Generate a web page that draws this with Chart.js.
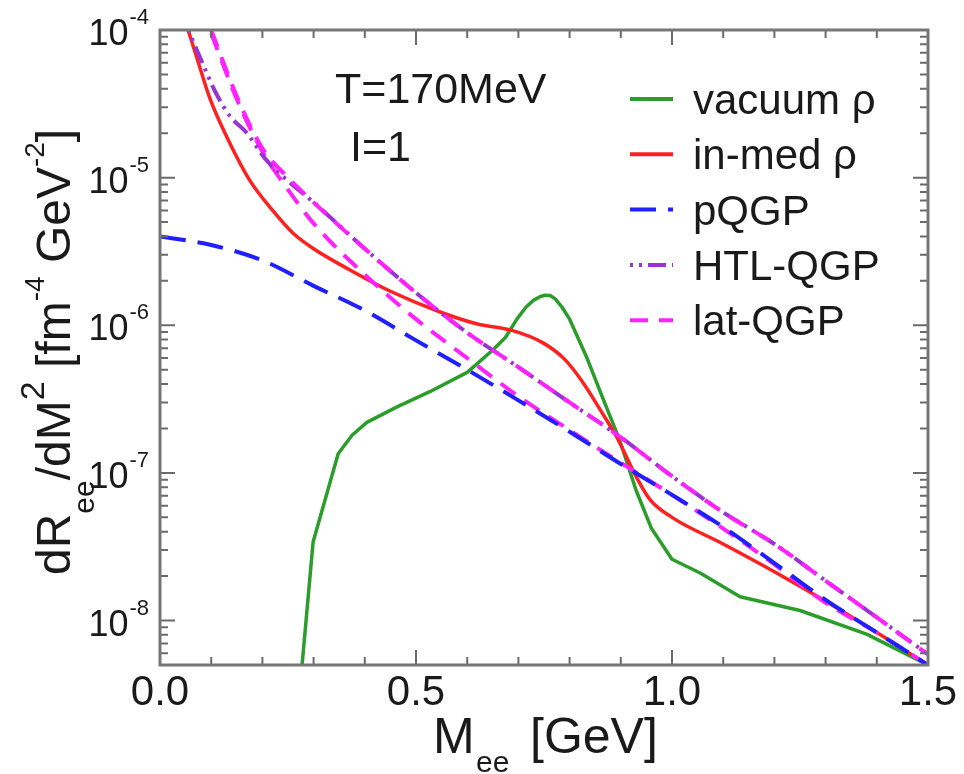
<!DOCTYPE html>
<html>
<head>
<meta charset="utf-8">
<script src="https://cdn.jsdelivr.net/npm/chart.js@4/dist/chart.umd.min.js"></script>
<style>
  body{ margin:0; background:#fff; }
  #wrap{ width:964px; height:774px; }
</style>
</head>
<body>
<div id="wrap"><canvas id="c" width="964" height="774"></canvas></div>
<script>
// M_ee [GeV] and dR/dM^2 values
const vacX = [0.275,0.299,0.348,0.375,0.404,0.463,0.527,0.6,0.65,0.675,0.697,0.715,0.73,0.742,0.752,0.762,0.772,0.785,0.8,0.834,0.865,0.898,0.93,0.96,1.0,1.055,1.133,1.25,1.38,1.5];
const vacY = [4.0e-9,3.4e-8,1.35e-7,1.8e-7,2.2e-7,2.8e-7,3.55e-7,4.8e-7,6.8e-7,8.3e-7,1.1e-6,1.33e-6,1.48e-6,1.56e-6,1.6e-6,1.59e-6,1.51e-6,1.33e-6,1.1e-6,6.0e-7,3.2e-7,1.66e-7,7.6e-8,4.2e-8,2.6e-8,2.1e-8,1.45e-8,1.17e-8,8.1e-9,5.0e-9];

const medX = [0.055,0.075,0.098,0.13,0.176,0.22,0.26,0.3,0.371,0.45,0.547,0.62,0.684,0.748,0.79,0.826,0.862,0.892,0.931,0.957,1.0,1.1,1.2,1.3,1.4,1.5];
const medY = [1.0e-4,6.0e-5,3.4e-5,1.9e-5,9.5e-6,6.0e-6,4.2e-6,3.3e-6,2.37e-6,1.7e-6,1.23e-6,1.02e-6,9.3e-7,7.6e-7,5.9e-7,4.1e-7,2.6e-7,1.75e-7,9.3e-8,6.6e-8,5.0e-8,3.3e-8,2.14e-8,1.35e-8,8.3e-9,5.0e-9];

const pqgpX = [0,0.1,0.2,0.3,0.4,0.5,0.6,0.7,0.8,0.9,1.0,1.1,1.2,1.3,1.4,1.5];
const pqgpY = [4.0e-6,3.5e-6,2.75e-6,1.85e-6,1.26e-6,7.9e-7,5.0e-7,3.1e-7,1.9e-7,1.15e-7,7.1e-8,4.3e-8,2.45e-8,1.38e-8,8.3e-9,5.0e-9];

const htlX = [0.055,0.08,0.11,0.137,0.17,0.205,0.25,0.3,0.4,0.5,0.6,0.7,0.8,0.9,1.0,1.1,1.2,1.3,1.4,1.5];
const htlY = [1.0e-4,6.3e-5,3.7e-5,2.6e-5,2.0e-5,1.35e-5,9.5e-6,6.8e-6,3.3e-6,1.66e-6,8.9e-7,5.2e-7,3.0e-7,1.74e-7,9.5e-8,5.4e-8,3.3e-8,1.86e-8,1.05e-8,5.9e-9];

const latX = [0.1,0.15,0.2,0.25,0.3,0.4,0.5,0.6,0.7,0.8,0.9,1.0,1.1,1.2,1.3,1.4,1.5];
const latY = [1.0e-4,3.55e-5,1.58e-5,1.0e-5,6.8e-6,3.3e-6,1.66e-6,8.9e-7,5.2e-7,3.0e-7,1.74e-7,9.5e-8,5.4e-8,3.3e-8,1.86e-8,1.05e-8,5.9e-9];
const lat2Y = [9.5e-5,3.4e-5,1.5e-5,8.3e-6,4.9e-6,2.2e-6,1.1e-6,6.0e-7,3.3e-7,1.95e-7,1.17e-7,7.1e-8,4.2e-8,2.4e-8,1.32e-8,8.3e-9,5.0e-9];

const xTicks = [0.0, 0.5, 1.0, 1.5];
const yDecades = [-8, -7, -6, -5, -4];

const FONT = '"Liberation Sans", Arial, sans-serif';

function pts(xs, ys){ return xs.map((x,i)=>({x:x, y:ys[i]})); }

function ds(label, xs, ys, color, dash, order, smooth){
  return {
    label, data: pts(xs, ys), borderColor: color, backgroundColor: color,
    borderWidth: dash.length ? 4 : 3.5, borderDash: dash, pointRadius: 0, fill: false,
    cubicInterpolationMode: smooth ? 'monotone' : 'default', tension: 0,
    borderJoinStyle: 'round', order
  };
}

const legendRows = [
  { text: 'vacuum ρ', color: '#2a9d2a', dash: [] },
  { text: 'in-med ρ', color: '#ff2020', dash: [] },
  { text: 'pQGP', color: '#1f1fff', dash: [26, 12] },
  { text: 'HTL-QGP', color: '#9a33d6', dash: [3, 6, 3, 6, 18, 6] },
  { text: 'lat-QGP', color: '#ff22ff', dash: [18, 11] }
];

const axesPlugin = {
  id: 'axesPlugin',
  afterDraw(chart){
    const ctx = chart.ctx;
    const a = chart.chartArea;
    const xs = chart.scales.x, ys = chart.scales.y;
    ctx.save();

    // ticks
    ctx.strokeStyle = '#6a6a6a';
    ctx.lineWidth = 2;
    ctx.beginPath();
    for(let i=0;i<=15;i++){
      const px = xs.getPixelForValue(i/10);
      const len = (i%5===0) ? 15 : 8;
      ctx.moveTo(px, a.bottom); ctx.lineTo(px, a.bottom-len);
      ctx.moveTo(px, a.top); ctx.lineTo(px, a.top+len);
    }
    for(let d=-9; d<=-5; d++){
      for(let m=1; m<=9; m++){
        const v = m*Math.pow(10,d);
        if(v < ys.min*0.999 || v > ys.max*1.001) continue;
        const py = ys.getPixelForValue(v);
        const len = (m===1) ? 15 : 8;
        ctx.moveTo(a.left, py); ctx.lineTo(a.left+len, py);
        ctx.moveTo(a.right, py); ctx.lineTo(a.right-len, py);
      }
    }
    ctx.stroke();

    // frame
    ctx.strokeStyle = '#777';
    ctx.lineWidth = 3;
    ctx.strokeRect(a.left, a.top, a.right-a.left, a.bottom-a.top);

    ctx.fillStyle = '#1a1a1a';

    // x tick labels
    ctx.font = '42px ' + FONT;
    ctx.textAlign = 'center';
    ctx.textBaseline = 'alphabetic';
    xTicks.forEach(v=>{
      ctx.fillText(v.toFixed(1), xs.getPixelForValue(v), 705);
    });

    // y tick labels 10^n
    yDecades.forEach(d=>{
      const py = ys.getPixelForValue(Math.pow(10,d));
      const sup = String(d);
      ctx.font = '22px ' + FONT;
      ctx.textAlign = 'right';
      ctx.fillText(sup, 149, py-6);
      const w = ctx.measureText(sup).width;
      ctx.font = '36px ' + FONT;
      ctx.fillText('10', 148-w, py+15);
    });

    // x title
    ctx.textAlign = 'left';
    ctx.font = '50px ' + FONT;
    ctx.fillText('M', 433, 753);
    ctx.font = '30px ' + FONT;
    ctx.fillText('ee', 476, 772);
    ctx.font = '50px ' + FONT;
    ctx.fillText('[GeV]', 530, 753);

    // y title, rotated
    ctx.save();
    ctx.translate(70, 575);
    ctx.rotate(-Math.PI/2);
    const parts = [
      ['dR', 48, 0], ['ee', 30, 24], ['/dM', 48, 0], ['2', 34, -26],
      [' [fm', 48, 0], ['-4', 28, -26], [' GeV', 48, 0], ['-2', 28, -26], [']', 48, 0]
    ];
    let tx = 0;
    parts.forEach(p=>{
      ctx.font = p[1] + 'px ' + FONT;
      ctx.fillText(p[0], tx, p[2]);
      tx += ctx.measureText(p[0]).width;
    });
    ctx.restore();

    // annotations
    ctx.font = '43px ' + FONT;
    ctx.fillText('T=170MeV', 335, 103);
    ctx.fillText('I=1', 350, 161);

    // legend
    legendRows.forEach((r,i)=>{
      const y = 99 + i*55.3;
      ctx.strokeStyle = r.color;
      ctx.lineWidth = 4;
      ctx.setLineDash(r.dash);
      ctx.beginPath();
      ctx.moveTo(630, y); ctx.lineTo(673, y);
      ctx.stroke();
      ctx.setLineDash([]);
      ctx.font = '42px ' + FONT;
      ctx.fillStyle = '#1a1a1a';
      ctx.fillText(r.text, 693, y+15);
    });

    ctx.restore();
  }
};

new Chart(document.getElementById('c'), {
  type: 'line',
  data: {
    datasets: [
      ds('pQGP', pqgpX, pqgpY, '#1f1fff', [26, 12], 1, true),
      ds('lat-QGP', latX, latY, '#ff22ff', [18, 11], 2, true),
      ds('HTL-QGP', htlX, htlY, '#9a33d6', [3, 6, 3, 6, 18, 6], 3, true),
      ds('lat-QGP (2)', latX, lat2Y, '#ff22ff', [18, 11], 4, true),
      ds('in-med ρ', medX, medY, '#ff2020', [], 5, true),
      ds('vacuum ρ', vacX, vacY, '#2a9d2a', [], 6, false)
    ]
  },
  options: {
    responsive: false,
    animation: false,
    layout: { padding: { left: 160, right: 36, top: 30, bottom: 109 } },
    scales: {
      x: { type: 'linear', min: 0, max: 1.5, display: false },
      y: { type: 'logarithmic', min: 5e-9, max: 1e-4, display: false }
    },
    plugins: { legend: { display: false }, tooltip: { enabled: false } }
  },
  plugins: [axesPlugin]
});
</script>
</body>
</html>
